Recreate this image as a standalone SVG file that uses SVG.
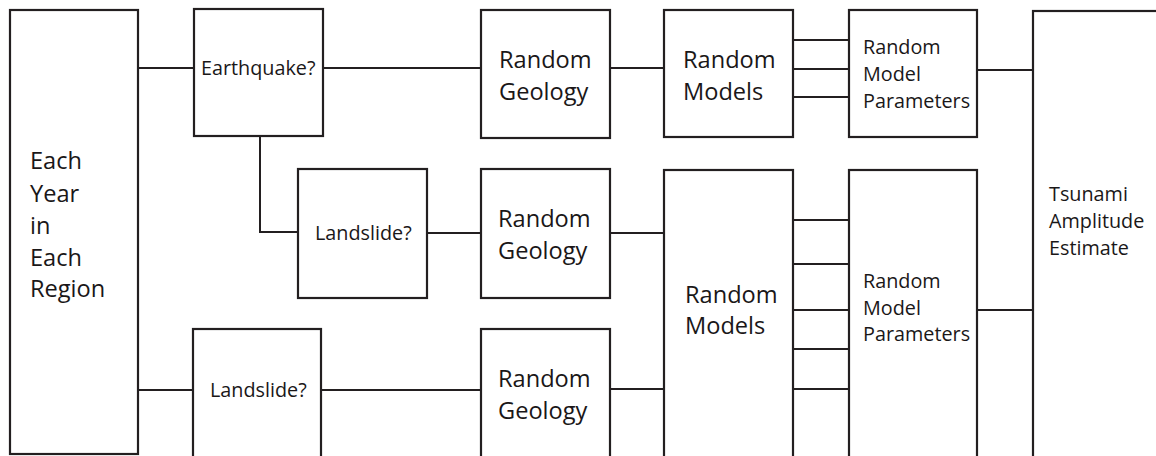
<svg xmlns="http://www.w3.org/2000/svg" width="1156" height="456" viewBox="0 0 1156 456">
  <style>
    .box { fill: #ffffff; stroke: #231f20; stroke-width: 2.2; }
    .wire { fill: none; stroke: #231f20; stroke-width: 2; }
    .lg { font-family: "Open Sans", "Liberation Sans", sans-serif; font-size: 23.6px; fill: #1a1718; }
    .sm { font-family: "Open Sans", "Liberation Sans", sans-serif; font-size: 19.8px; fill: #1a1718; }
  </style>
  <rect width="1156" height="456" fill="#ffffff"/>

  <!-- connectors -->
  <g id="connectors" class="wire">
    <path d="M138 68H194"/>
    <path d="M323 68H481"/>
    <path d="M610 68H664"/>
    <path d="M793 40H849M793 69H849M793 97H849"/>
    <path d="M977 70H1033"/>
    <path d="M260 136V232H298"/>
    <path d="M427 233H481"/>
    <path d="M610 233H664"/>
    <path d="M138 390H193"/>
    <path d="M321 390H481"/>
    <path d="M610 389H664"/>
    <path d="M793 220H849M793 264H849M793 310H849M793 349H849M793 389H849"/>
    <path d="M977 310H1033"/>
  </g>

  <g id="region">
    <rect class="box" x="10" y="10" width="128" height="444"/>
    <text class="lg" x="30">
      <tspan x="30" y="169">Each</tspan>
      <tspan x="30" y="201.5">Year</tspan>
      <tspan x="30" y="233.5">in</tspan>
      <tspan x="30" y="266">Each</tspan>
      <tspan x="30" y="297">Region</tspan>
    </text>
  </g>

  <g id="earthquake">
    <rect class="box" x="194" y="9" width="129" height="127"/>
    <text class="sm" x="201" y="75">Earthquake?</text>
  </g>

  <g id="landslide-a">
    <rect class="box" x="298" y="169" width="129" height="129"/>
    <text class="sm" x="315" y="240">Landslide?</text>
  </g>

  <g id="landslide-b">
    <rect class="box" x="193" y="329" width="128" height="132"/>
    <text class="sm" x="210" y="397">Landslide?</text>
  </g>

  <g id="geology-a">
    <rect class="box" x="481" y="10" width="129" height="128"/>
    <text class="lg"><tspan x="499" y="68">Random</tspan><tspan x="499" y="100">Geology</tspan></text>
  </g>

  <g id="geology-b">
    <rect class="box" x="481" y="169" width="129" height="129"/>
    <text class="lg"><tspan x="498" y="227">Random</tspan><tspan x="498" y="258.5">Geology</tspan></text>
  </g>

  <g id="geology-c">
    <rect class="box" x="481" y="329" width="129" height="132"/>
    <text class="lg"><tspan x="498" y="387">Random</tspan><tspan x="498" y="418.5">Geology</tspan></text>
  </g>

  <g id="models-a">
    <rect class="box" x="664" y="10" width="129" height="127"/>
    <text class="lg"><tspan x="683" y="68">Random</tspan><tspan x="683" y="99.5">Models</tspan></text>
  </g>

  <g id="models-b">
    <rect class="box" x="664" y="170" width="129" height="292"/>
    <text class="lg"><tspan x="685" y="303">Random</tspan><tspan x="685" y="334">Models</tspan></text>
  </g>

  <g id="params-a">
    <rect class="box" x="849" y="10" width="128" height="127"/>
    <text class="sm"><tspan x="863" y="54">Random</tspan><tspan x="863" y="81">Model</tspan><tspan x="863" y="107.5">Parameters</tspan></text>
  </g>

  <g id="params-b">
    <rect class="box" x="849" y="170" width="128" height="292"/>
    <text class="sm"><tspan x="863" y="288">Random</tspan><tspan x="863" y="315">Model</tspan><tspan x="863" y="341">Parameters</tspan></text>
  </g>

  <g id="tsunami">
    <rect class="box" x="1033" y="11" width="200" height="460"/>
    <text class="sm"><tspan x="1049" y="200.5">Tsunami</tspan><tspan x="1049" y="227.5">Amplitude</tspan><tspan x="1049" y="254.5">Estimate</tspan></text>
  </g>
</svg>
